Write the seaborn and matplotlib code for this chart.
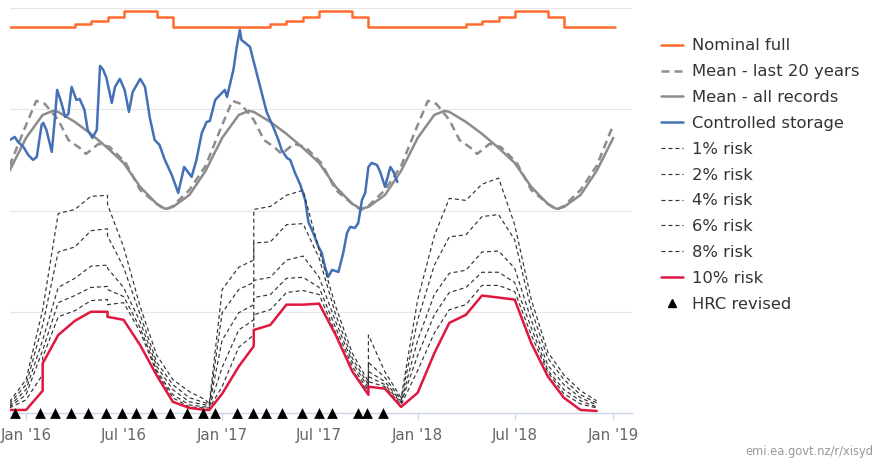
import pandas as pd
import numpy as np
import matplotlib
matplotlib.use("Agg")
import matplotlib.pyplot as plt
import matplotlib.dates as mdates
from matplotlib.lines import Line2D
import seaborn as sns

# --- data (storage, GWh) ---
nominal_dates = ["2015-12-01", "2016-04-01", "2016-05-01", "2016-06-01", "2016-07-01", "2016-09-01",
                 "2016-10-01", "2017-04-01", "2017-05-01", "2017-06-01", "2017-07-01", "2017-09-01",
                 "2017-10-01", "2018-04-01", "2018-05-01", "2018-06-01", "2018-07-01", "2018-09-01",
                 "2018-10-01", "2019-01-05"]
nominal_vals = [3817, 3844, 3874, 3916, 3972, 3916,
                3817, 3844, 3874, 3916, 3972, 3916,
                3817, 3844, 3874, 3916, 3972, 3916,
                3817, 3817]

# annual mean profiles (month-day, value)
mean_all_md = ["01-01", "02-01", "02-20", "03-01", "04-01", "05-01", "06-01", "07-01",
               "08-01", "09-01", "09-17", "10-01", "11-01", "12-01"]
mean_all_vals = [2717, 2944, 2984, 2974, 2875, 2757, 2618, 2470,
                 2233, 2065, 2016, 2035, 2154, 2391]
mean20_md = ["01-01", "01-20", "02-05", "03-01", "03-20", "04-10", "04-22", "05-15",
             "06-05", "07-05", "08-01", "09-01", "09-17", "10-01", "11-01", "12-01"]
mean20_vals = [2845, 3083, 3053, 2895, 2697, 2618, 2559, 2658,
               2628, 2470, 2203, 2065, 2006, 2045, 2203, 2440]
mean_years = [2015, 2016, 2017, 2018, 2019]

storage_dates = ["2015-12-02", "2015-12-11", "2015-12-17", "2015-12-27", "2016-01-05", "2016-01-14",
                 "2016-01-21", "2016-01-30", "2016-02-02", "2016-02-08", "2016-02-18", "2016-02-24",
                 "2016-02-28", "2016-03-07", "2016-03-14", "2016-03-20", "2016-03-26", "2016-04-04",
                 "2016-04-10", "2016-04-19", "2016-04-25", "2016-05-04", "2016-05-12", "2016-05-18",
                 "2016-05-24", "2016-05-30", "2016-06-09", "2016-06-15", "2016-06-24", "2016-07-03",
                 "2016-07-11", "2016-07-18", "2016-08-01", "2016-08-10", "2016-08-19", "2016-08-28",
                 "2016-09-06", "2016-09-16", "2016-09-29", "2016-10-11", "2016-10-22", "2016-11-05",
                 "2016-11-14", "2016-11-24", "2016-12-03", "2016-12-09", "2016-12-19", "2016-12-28",
                 "2017-01-06", "2017-01-10", "2017-01-22", "2017-01-28", "2017-02-03", "2017-02-06",
                 "2017-02-13", "2017-02-22", "2017-02-28", "2017-03-13", "2017-03-25", "2017-04-07",
                 "2017-04-16", "2017-04-22", "2017-05-02", "2017-05-08", "2017-05-17", "2017-05-27",
                 "2017-06-05", "2017-06-11", "2017-06-20", "2017-06-30", "2017-07-06", "2017-07-12",
                 "2017-07-18", "2017-07-25", "2017-08-06", "2017-08-15", "2017-08-22", "2017-08-28",
                 "2017-09-06", "2017-09-12", "2017-09-19", "2017-09-25", "2017-10-01", "2017-10-07",
                 "2017-10-17", "2017-10-23", "2017-11-01", "2017-11-11", "2017-11-17", "2017-11-24"]
storage_vals = [2697, 2727, 2677, 2628, 2549, 2500,
                2529, 2845, 2865, 2796, 2579, 2924,
                3191, 3063, 2924, 2954, 3221, 3092,
                3102, 2994, 2796, 2717, 2796, 3428,
                3389, 3310, 3063, 3221, 3300, 3191,
                2974, 3171, 3300, 3221, 2915, 2697,
                2648, 2500, 2351, 2174, 2430, 2332,
                2500, 2766, 2874, 2885, 3092, 3142,
                3191, 3122, 3389, 3606, 3784, 3685,
                3655, 3616, 3488, 3221, 2974, 2816,
                2697, 2598, 2519, 2500, 2371, 2253,
                2104, 1887, 1778, 1640, 1581, 1442,
                1344, 1413, 1393, 1581, 1778, 1838,
                1828, 1877, 2104, 2174, 2430, 2470,
                2450, 2381, 2233, 2430, 2381, 2282]

# risk curves share one date list (repeated dates = step at a curve revision)
risk_dates = ["2015-12-01", "2016-01-01", "2016-02-01", "2016-02-01", "2016-03-01", "2016-04-01",
              "2016-05-01", "2016-06-01", "2016-06-01", "2016-07-01", "2016-08-01", "2016-09-01",
              "2016-10-01", "2016-11-01", "2016-12-01", "2016-12-08", "2016-12-08", "2017-01-01",
              "2017-02-01", "2017-03-01", "2017-03-01", "2017-04-01", "2017-05-01", "2017-06-01",
              "2017-07-01", "2017-08-01", "2017-09-01", "2017-10-01", "2017-10-01", "2017-11-01",
              "2017-12-01", "2018-01-01", "2018-02-01", "2018-03-01", "2018-04-01", "2018-05-01",
              "2018-06-01", "2018-07-01", "2018-08-01", "2018-09-01", "2018-10-01", "2018-11-01",
              "2018-12-01"]
risk_1 = [110, 330, 1020, 1020, 1970, 2010, 2140, 2150, 2060, 1640, 1050, 570,
          330, 210, 130, 90, 90, 1220, 1440, 1510, 2010, 2040, 2150, 2200,
          1610, 1050, 590, 310, 770, 405, 150, 1120, 1750, 2120, 2100, 2260,
          2320, 1860, 1120, 600, 375, 220, 120]
risk_2 = [90, 280, 870, 870, 1590, 1640, 1800, 1820, 1750, 1440, 970, 500,
          280, 150, 100, 80, 80, 990, 1220, 1290, 1680, 1690, 1860, 1870,
          1530, 970, 540, 280, 500, 350, 130, 920, 1460, 1740, 1760, 1940,
          1960, 1710, 1020, 540, 330, 180, 100]
risk_4 = [70, 230, 720, 720, 1240, 1330, 1450, 1460, 1430, 1240, 900, 460,
          230, 110, 80, 70, 70, 720, 990, 1070, 1310, 1340, 1510, 1550,
          1340, 900, 500, 250, 410, 310, 110, 720, 1170, 1380, 1410, 1590,
          1600, 1430, 920, 470, 280, 150, 80]
risk_6 = [60, 180, 620, 620, 1090, 1160, 1240, 1250, 1220, 1150, 840, 420,
          180, 80, 60, 60, 60, 450, 820, 920, 1140, 1170, 1330, 1340,
          1240, 840, 460, 220, 360, 280, 100, 570, 970, 1190, 1240, 1390,
          1390, 1290, 840, 420, 230, 120, 60]
risk_8 = [50, 130, 380, 550, 950, 1010, 1110, 1120, 1070, 1090, 800, 400,
          150, 60, 50, 50, 50, 260, 650, 770, 970, 1020, 1190, 1210,
          1170, 790, 420, 200, 310, 260, 80, 420, 790, 1020, 1070, 1260,
          1260, 1200, 770, 400, 190, 90, 50]
risk_10 = [30, 30, 220, 490, 770, 910, 1000, 1000, 950, 920, 670, 370,
           110, 50, 30, 30, 30, 190, 460, 660, 820, 870, 1070, 1070,
           1080, 770, 410, 180, 260, 240, 60, 200, 590, 890, 970, 1160,
           1140, 1120, 690, 360, 150, 30, 20]
risk_labels = ["1% risk", "2% risk", "4% risk", "6% risk", "8% risk"]

hrc_dates = ["2015-12-11", "2016-01-27", "2016-02-24", "2016-03-24", "2016-04-26", "2016-05-29",
             "2016-06-28", "2016-07-24", "2016-08-23", "2016-09-26", "2016-10-27", "2016-11-27",
             "2016-12-19", "2017-01-28", "2017-02-27", "2017-03-24", "2017-04-22", "2017-05-30",
             "2017-06-30", "2017-07-25", "2017-09-12", "2017-09-28", "2017-10-29"]

# --- styling ---
c_nominal = "#ff6c2f"
c_mean = "#8c8c8c"
c_storage = "#4470b8"
c_risk = "#333333"
c_red = "#e0173f"
risk_dash = (0, (3.4, 2.5))
mean_dash = (0, (3.2, 2.0))

sns.set_theme(style="white")
plt.rcParams["font.family"] = ["DejaVu Sans"]

fig = plt.figure(figsize=(8.77, 4.63), dpi=100)
ax = fig.add_axes([10 / 877, 50 / 463, 622 / 877, 405 / 463])


def tiled(md, vals):
    d, v = [], []
    for yr in mean_years:
        for m, val in zip(md, vals):
            s = f"{yr}-{m}"
            if "2015-12-01" <= s <= "2019-01-01":
                d.append(s)
                v.append(val)
    return pd.DataFrame({"date": pd.to_datetime(d), "val": v})


def line(df, **kw):
    sns.lineplot(data=df, x="date", y="val", ax=ax, estimator=None, sort=False,
                 legend=False, **kw)


nom = pd.DataFrame({"date": pd.to_datetime(nominal_dates), "val": nominal_vals})
line(nom, color=c_nominal, linewidth=1.8, drawstyle="steps-post")

line(tiled(mean20_md, mean20_vals), color=c_mean, linewidth=1.8, linestyle=mean_dash)
line(tiled(mean_all_md, mean_all_vals), color=c_mean, linewidth=1.8)

sto = pd.DataFrame({"date": pd.to_datetime(storage_dates), "val": storage_vals})
line(sto, color=c_storage, linewidth=1.8)

rd = pd.to_datetime(risk_dates)
for vals in [risk_1, risk_2, risk_4, risk_6, risk_8]:
    line(pd.DataFrame({"date": rd, "val": vals}), color=c_risk, linewidth=0.85, linestyle=risk_dash)
line(pd.DataFrame({"date": rd, "val": risk_10}), color=c_red, linewidth=1.8)

hrc = pd.DataFrame({"date": pd.to_datetime(hrc_dates), "val": np.zeros(len(hrc_dates))})
sns.scatterplot(data=hrc, x="date", y="val", ax=ax, marker="^", color="black", s=60,
                linewidth=0, clip_on=False, zorder=5, legend=False)

# --- axes ---
ax.set_xlim(pd.Timestamp("2015-12-02"), pd.Timestamp("2019-02-05"))
ax.set_ylim(0, 4000)
ax.set_yticks([0, 1000, 2000, 3000, 4000])
ax.set_yticklabels([])
ax.tick_params(axis="y", length=0)
ax.grid(axis="y", color="#e6e6e6", linewidth=0.8)
ax.set_axisbelow(True)
for side in ["left", "right", "top"]:
    ax.spines[side].set_visible(False)
ax.spines["bottom"].set_color("#ccd6eb")
ax.spines["bottom"].set_linewidth(1)
ax.xaxis.set_major_locator(mdates.MonthLocator(bymonth=[1, 7]))
ax.xaxis.set_major_formatter(mdates.DateFormatter("%b '%y"))
ax.tick_params(axis="x", length=5, width=0.8, color="#ccd6eb", labelsize=10.8,
               labelcolor="#666666", pad=6, bottom=True)
ax.set_xlabel("")
ax.set_ylabel("")

# --- legend ---
handles = [
    Line2D([], [], color=c_nominal, lw=1.8),
    Line2D([], [], color=c_mean, lw=1.8, linestyle=mean_dash),
    Line2D([], [], color=c_mean, lw=1.8),
    Line2D([], [], color=c_storage, lw=1.8),
] + [Line2D([], [], color=c_risk, lw=0.85, linestyle=risk_dash) for _ in risk_labels] + [
    Line2D([], [], color=c_red, lw=1.8),
    Line2D([], [], color="black", marker="^", linestyle="none", markersize=6),
]
labels = ["Nominal full", "Mean - last 20 years", "Mean - all records", "Controlled storage"] \
    + risk_labels + ["10% risk", "HRC revised"]
fig.legend(handles, labels, loc="upper left", bbox_to_anchor=(661 / 877, 1 - 38.5 / 463),
           frameon=False, fontsize=11.8, labelcolor="#333333", handlelength=1.34,
           handletextpad=0.53, labelspacing=0.66, borderpad=0, borderaxespad=0)

fig.text(873 / 877, 1 - 452 / 463, "emi.ea.govt.nz/r/xisyd", ha="right", va="center",
         fontsize=8.3, color="#999999")

fig.savefig("out.png", dpi=100)
